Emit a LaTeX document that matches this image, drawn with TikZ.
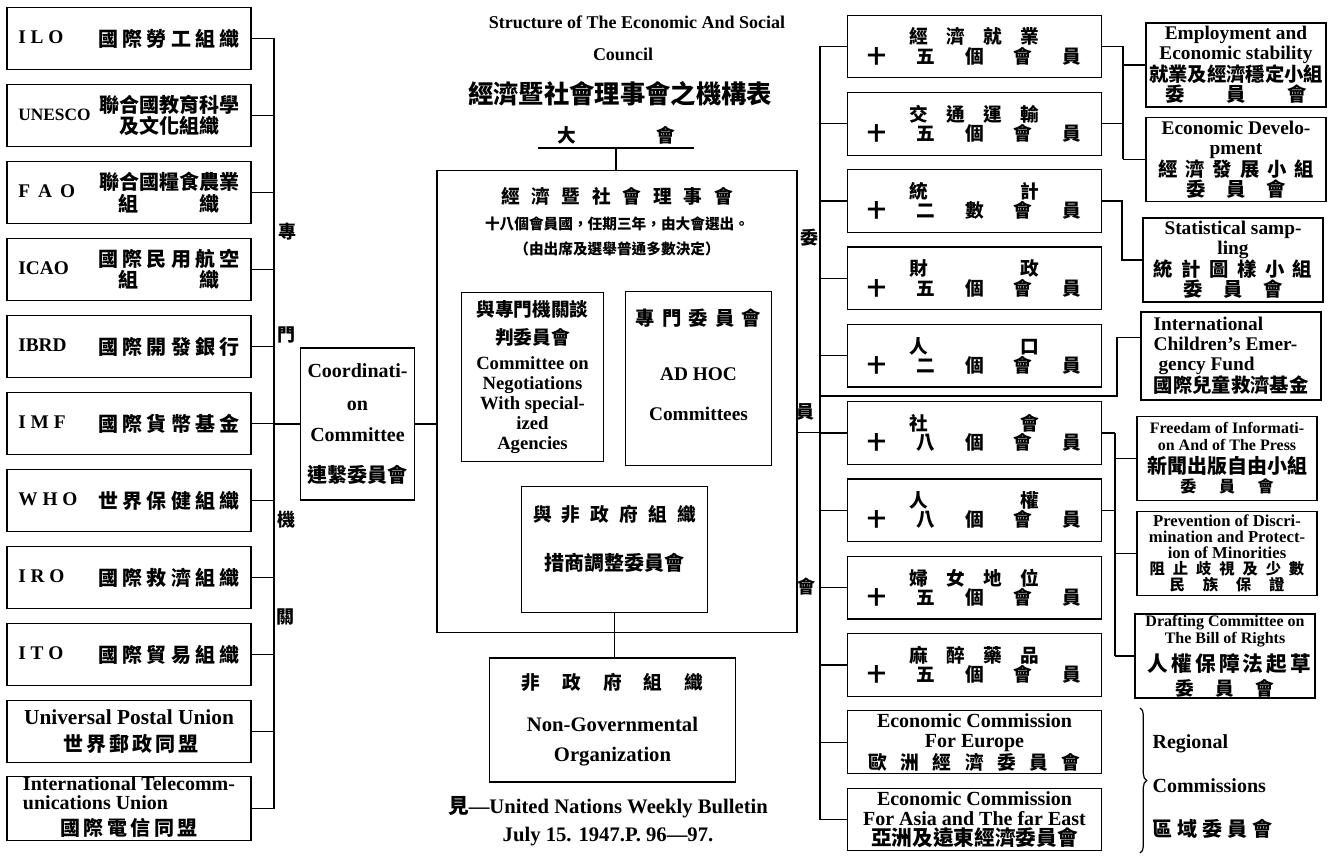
\documentclass[tikz,border=0pt]{standalone}
\usepackage{fontspec}
\setmainfont{Liberation Serif}
\newfontfamily\cjk{Noto Sans CJK TC}
\usetikzlibrary{positioning,decorations.pathreplacing}
\newcommand{\fsz}[2]{\fontsize{#1}{#2}\selectfont}
\newcommand{\zh}[1]{{\cjk #1}}
\newcommand{\spr}[2]{\makebox[#1][s]{\cjk #2}}
\newcommand{\agencytext}[2]{\makebox[60pt][l]{#1}\parbox{106pt}{\centering\fsz{15}{16}\cjk #2}}
\tikzset{every picture/.style={line width=0.9pt}}
\tikzstyle{agency}=[draw,minimum width=183pt,minimum height=47pt,inner sep=0pt,font=\fsz{14.5}{16}\bfseries]
\tikzstyle{comm}=[draw,minimum width=191pt,minimum height=47pt,inner sep=0pt,align=center,font=\fsz{14}{14.5}\bfseries]
\tikzstyle{sub}=[draw,minimum width=135pt,minimum height=63pt,inner sep=0pt,align=center,font=\fsz{14.5}{15}\bfseries]
\tikzstyle{panel}=[draw,inner sep=0pt,align=center,font=\fsz{14}{15}\bfseries]
\tikzstyle{txt}=[inner sep=0pt,align=center,font=\bfseries]

\begin{document}
\begin{tikzpicture}[x=0.75pt,y=-0.75pt]
\useasboundingbox (0,0) rectangle (1342,866);
% heading
\node[txt,font=\fsz{13.5}{14}\bfseries] (t1) at (637,22) {Structure of The Economic And Social};
\node[txt,font=\fsz{13.5}{14}\bfseries] (t2) at (623,54) {Council};
\node[txt,font=\fsz{19}{20}\bfseries\cjk] (t3) at (620,94) {經濟暨社會理事會之機構表};
\node[txt,font=\fsz{14}{14}\bfseries,minimum width=116pt,anchor=south,inner ysep=2pt] (ga) at (616,148) {\spr{88pt}{大 會}};

% specialized agencies
\node[agency] (ilo) at (129,38.5) {\agencytext{I L O}{\spr{106pt}{國 際 勞 工 組 織}}};
\node[agency] (unesco) at (129,115.5) {\agencytext{\fsz{13}{13}UNESCO}{聯合國教育科學\\及文化組織}};
\node[agency] (fao) at (129,192.5) {\agencytext{F\,\ A\,\ O}{聯合國糧食農業\\\spr{76pt}{組 織}}};
\node[agency] (icao) at (129,269.5) {\agencytext{ICAO}{\spr{106pt}{國 際 民 用 航 空}\\\spr{76pt}{組 織}}};
\node[agency] (ibrd) at (129,346.5) {\agencytext{IBRD}{\spr{106pt}{國 際 開 發 銀 行}}};
\node[agency] (imf) at (129,423.5) {\agencytext{I M F}{\spr{106pt}{國 際 貨 幣 基 金}}};
\node[agency] (who) at (129,500.5) {\agencytext{W H O}{\spr{106pt}{世 界 保 健 組 織}}};
\node[agency] (iro) at (129,577.5) {\agencytext{I R O}{\spr{106pt}{國 際 救 濟 組 織}}};
\node[agency] (ito) at (129,654.5) {\agencytext{I T O}{\spr{106pt}{國 際 貿 易 組 織}}};
\node[agency,align=center,font=\fsz{16}{20}\bfseries] (upu) at (129,731.5) {Universal Postal Union\\\spr{98pt}{\fsz{15}{15}世 界 郵 政 同 盟}};
\node[agency,font=\fsz{15}{12}\bfseries] (itu) at (129,808.5) {\begin{tabular}{@{}l@{}}International Telecomm-\\unications Union\\[3pt]\multicolumn{1}{@{}c@{}}{\spr{103pt}{\fsz{15}{15}國 際 電 信 同 盟}}\end{tabular}};
\node[txt,font=\fsz{13.5}{13}\bfseries\cjk] (lb1) at (287,232) {專};
\node[txt,font=\fsz{13.5}{13}\bfseries\cjk] (lb2) at (286,335) {門};
\node[txt,font=\fsz{13.5}{13}\bfseries\cjk] (lb3) at (286,520) {機};
\node[txt,font=\fsz{13.5}{13}\bfseries\cjk] (lb4) at (285,617) {關};
\node[panel,minimum width=86pt,minimum height=114pt,font=\fsz{15}{23}\bfseries] (coord) at (357.5,424) {Coordinati-\\[2pt]on\\Committee\\[8pt]\zh{連繫委員會}};

% the council
\node[draw,minimum width=270pt,minimum height=347pt] (ecosoc) at (617,401.5) {};
\node[txt,font=\fsz{11}{19}\bfseries] (info) at (617,222) {\spr{174pt}{\fsz{14}{14}經 濟 暨 社 會 理 事 會}\\\zh{十八個會員國，任期三年，由大會選出。}\\\zh{（由出席及選舉普通多數決定）}};
\node[panel,minimum width=106pt,minimum height=127pt] (nego) at (532.5,377) {\zh{與專門機關談}\\[6pt]\zh{判委員會}\\[4pt]Committee on\\Negotiations\\With special-\\ized\\Agencies};
\node[panel,minimum width=110pt,minimum height=130pt,font=\fsz{14.5}{15}\bfseries] (adhoc) at (698.5,378.5) {\spr{94pt}{專 門 委 員 會}\\[26pt]AD HOC\\[15pt]Committees\\[6pt]\mbox{}};
\node[panel,minimum width=139pt,minimum height=94pt] (ngoc) at (614.5,549.5) {\spr{122pt}{與 非 政 府 組 織}\\[22pt]\zh{\fsz{15}{15}措商調整委員會}\\[2pt]\mbox{}};
\node[panel,minimum width=184pt,minimum height=93pt,font=\fsz{15.5}{22.5}\bfseries] (ngo) at (612.5,720) {\spr{136pt}{\fsz{14}{14}非 政 府 組 織}\\[9pt]Non-Governmental\\Organization};
\node[txt,font=\fsz{15.5}{21}\bfseries] (src) at (608,821) {\zh{見}—United Nations Weekly Bulletin\\July 15. 1947.P. 96—97.};

% commissions
\node[txt,font=\fsz{13.5}{13}\bfseries\cjk] (rl1) at (809,238) {委};
\node[txt,font=\fsz{13.5}{13}\bfseries\cjk] (rl2) at (805,412) {員};
\node[txt,font=\fsz{13.5}{13}\bfseries\cjk] (rl3) at (806,587) {會};
\node[comm] (c1) at (974.5,46.5) {\spr{97pt}{經 濟 就 業}\\\spr{160pt}{十 五 個 會 員}};
\node[comm] (c2) at (974.5,123.8) {\spr{97pt}{交 通 運 輸}\\\spr{160pt}{十 五 個 會 員}};
\node[comm] (c3) at (974.5,201.1) {\spr{97pt}{統 計}\\\spr{160pt}{十 二 數 會 員}};
\node[comm] (c4) at (974.5,278.4) {\spr{97pt}{財 政}\\\spr{160pt}{十 五 個 會 員}};
\node[comm] (c5) at (974.5,355.7) {\spr{97pt}{人 口}\\\spr{160pt}{十 二 個 會 員}};
\node[comm] (c6) at (974.5,433.0) {\spr{97pt}{社 會}\\\spr{160pt}{十 八 個 會 員}};
\node[comm] (c7) at (974.5,510.3) {\spr{97pt}{人 權}\\\spr{160pt}{十 八 個 會 員}};
\node[comm] (c8) at (974.5,587.6) {\spr{97pt}{婦 女 地 位}\\\spr{160pt}{十 五 個 會 員}};
\node[comm] (c9) at (974.5,664.9) {\spr{97pt}{麻 醉 藥 品}\\\spr{160pt}{十 五 個 會 員}};
\node[comm,font=\fsz{15}{15}\bfseries] (c10) at (974.5,742.2) {Economic Commission\\For Europe\\\spr{159pt}{\fsz{14}{14}歐 洲 經 濟 委 員 會}};
\node[comm,font=\fsz{15}{15}\bfseries] (c11) at (974.5,819.5) {Economic Commission\\For Asia and The far East\\\zh{\fsz{15.5}{15}亞洲及遠東經濟委員會}};

% sub-commissions
\node[sub] (s1) at (1236,65) {Employment and\\Economic stability\\\zh{就業及經濟穩定小組}\\\spr{106pt}{委 員 會}};
\node[sub] (s2) at (1236,159.5) {Economic Develo-\\pment\\\spr{117pt}{經 濟 發 展 小 組}\\\spr{75pt}{委 員 會}};
\node[sub] (s3) at (1233,260) {Statistical samp-\\ling\\\spr{119pt}{統 計 圖 樣 小 組}\\\spr{74pt}{委 員 會}};
\node[sub,align=left,minimum height=66pt] (icef) at (1231,356) {International\\Children’s Emer-\\\ gency Fund\\\zh{國際兒童救濟基金}};
\node[sub,font=\fsz{12}{12.5}\bfseries] (free) at (1227,458.5) {Freedam of Informati-\\on And of The Press\\[3pt]\zh{\fsz{15}{15}新聞出版自由小組}\\[2pt]\spr{70pt}{委 員 會}};
\node[sub,font=\fsz{12.5}{12}\bfseries] (prev) at (1227,553.5) {Prevention of Discri-\\mination and Protect-\\ion of Minorities\\\spr{116pt}{\fsz{11.5}{12}阻 止 歧 視 及 少 數}\\\spr{86pt}{\fsz{11.5}{12}民 族 保 證}};
\node[sub,font=\fsz{12}{13}\bfseries] (draft) at (1225,656) {Drafting Committee on\\The Bill of Rights\\[4pt]\spr{116pt}{\fsz{15.5}{15}人 權 保 障 法 起 草}\\[3pt]\spr{74pt}{\fsz{14}{14}委 員 會}};
\node[txt,anchor=west,align=left,font=\fsz{15}{33}\bfseries] (reg) at (1152,787) {Regional\\Commissions\\\spr{90pt}{區 域 委 員 會}};

% connectors, left side
\coordinate (lbus) at (274,0);
\draw (ilo.east -| lbus) -- (itu.east -| lbus);
\path (ilo.east) edge (ilo.east -| lbus)
 (unesco.east) edge (unesco.east -| lbus)
 (fao.east) edge (fao.east -| lbus)
 (icao.east) edge (icao.east -| lbus)
 (ibrd.east) edge (ibrd.east -| lbus)
 (imf.east) edge (imf.east -| lbus)
 (who.east) edge (who.east -| lbus)
 (iro.east) edge (iro.east -| lbus)
 (ito.east) edge (ito.east -| lbus)
 (upu.east) edge (upu.east -| lbus)
 (itu.east) edge (itu.east -| lbus)
 (coord.west) edge (coord.west -| lbus)
 (coord.east) edge (coord.east -| ecosoc.west);
\draw (ga.south west) -- (ga.south east);
\draw (ga.south) -- (ga.south |- ecosoc.north);
\draw (ngoc.south) -- (ngoc.south |- ngo.north);

% connectors, right side
\coordinate (rbus) at (820,0);
\coordinate (link) at ([yshift=-23pt]ecosoc.east);
\draw (c1.west -| rbus) -- (c11.west -| rbus);
\path (link) edge (link -| rbus)
 (c1.west) edge (c1.west -| rbus)
 (c2.west) edge (c2.west -| rbus)
 (c3.west) edge (c3.west -| rbus)
 (c4.west) edge (c4.west -| rbus)
 (c5.west) edge (c5.west -| rbus)
 (c6.west) edge (c6.west -| rbus)
 (c7.west) edge (c7.west -| rbus)
 (c8.west) edge (c8.west -| rbus)
 (c9.west) edge (c9.west -| rbus)
 (c10.west) edge (c10.west -| rbus)
 (c11.west) edge (c11.west -| rbus);
\coordinate (sa) at (1123,0);
\coordinate (sb) at (1122,0);
\coordinate (sc) at (1117,0);
\coordinate (sd) at (1115,0);
\coordinate (tap) at (820,396);
\coordinate (icefin) at ([yshift=14pt]icef.west);
\draw (c1.east -| sa) -- (s2.west -| sa);
\path (c1.east) edge (c1.east -| sa)
 (c2.east) edge (c2.east -| sa)
 (s1.west) edge (s1.west -| sa)
 (s2.west) edge (s2.west -| sa);
\draw (c3.east) -- (c3.east -| sb) |- (s3.west);
\draw (tap) -- (tap -| sc) |- (icefin);
\draw (c6.east -| sd) -- (draft.west -| sd);
\path (c6.east) edge (c6.east -| sd)
 (c7.east) edge (c7.east -| sd)
 (free.west) edge (free.west -| sd)
 (prev.west) edge (prev.west -| sd)
 (draft.west) edge (draft.west -| sd);
\coordinate (rtop) at (1140,708);
\coordinate (rbot) at (1140,853);
\draw[decorate,decoration={brace,amplitude=5pt}] (rtop) -- (rbot);
\end{tikzpicture}
\end{document}
